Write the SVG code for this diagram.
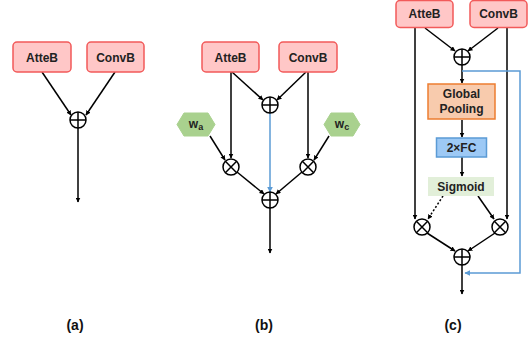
<svg xmlns="http://www.w3.org/2000/svg" width="532" height="343" viewBox="0 0 532 343">
  <defs>
    <marker id="ah" viewBox="0 0 10 10" refX="9" refY="5" markerWidth="5" markerHeight="5" orient="auto-start-reverse" markerUnits="userSpaceOnUse">
      <path d="M0,0 L10,5 L0,10 z" fill="#000"/>
    </marker>
    <marker id="ahb" viewBox="0 0 10 10" refX="9" refY="5" markerWidth="6" markerHeight="6" orient="auto" markerUnits="userSpaceOnUse">
      <path d="M0,0 L10,5 L0,10 z" fill="#5b9bd5"/>
    </marker>
    <g id="plus">
      <circle r="8" fill="#fff" stroke="#000" stroke-width="1.5"/>
      <path d="M-8,0 H8 M0,-8 V8" stroke="#000" stroke-width="1.5"/>
    </g>
    <g id="times">
      <circle r="8" fill="#fff" stroke="#000" stroke-width="1.5"/>
      <path d="M-5.66,-5.66 L5.66,5.66 M-5.66,5.66 L5.66,-5.66" stroke="#000" stroke-width="1.5"/>
    </g>
  </defs>
  <style>
    .blk { fill: #ffc7c7; stroke: #f25a5a; stroke-width: 1.5; }
    .lbl { font-family: "Liberation Sans", Arial, sans-serif; font-weight: bold; font-size: 12px; fill: #222; text-anchor: middle; }
    .cap { font-family: "Liberation Sans", Arial, sans-serif; font-weight: bold; font-size: 14px; fill: #111; text-anchor: middle; }
    .ln { stroke: #000; stroke-width: 1.5; fill: none; }
    .arr { marker-end: url(#ah); }
    .blue { stroke: #5b9bd5; stroke-width: 1.5; fill: none; }
    .hex { fill: #a9d18e; stroke: #a9d18e; }
  </style>
  <rect width="532" height="343" fill="#fff"/>

  <!-- connectors -->
  <g id="connectors">
    <!-- (a) -->
    <path class="ln arr" d="M42,72 L71,115"/>
    <path class="ln arr" d="M115,72 L86,115"/>
    <path class="ln arr" d="M78,128 V202"/>
    <!-- (b) -->
    <path class="ln arr" d="M231,72 V158"/>
    <path class="ln arr" d="M232,72 L263,100"/>
    <path class="ln arr" d="M308,72 V158"/>
    <path class="ln arr" d="M306,72 L277,100"/>
    <path class="blue" d="M270,113 V192" marker-end="url(#ahb)"/>
    <path class="ln arr" d="M210,136 L225,160"/>
    <path class="ln arr" d="M329,136 L314,160"/>
    <path class="ln arr" d="M237,172 L264,194"/>
    <path class="ln arr" d="M302,172 L276,194"/>
    <path class="ln arr" d="M270,208 V253"/>
    <!-- (c) -->
    <path class="ln arr" d="M415,27 V219"/>
    <path class="ln arr" d="M507,27 V219"/>
    <path class="ln arr" d="M425,28 L455,51"/>
    <path class="ln arr" d="M498,28 L468,51"/>
    <path class="ln arr" d="M462,65 V83"/>
    <path class="ln arr" d="M462,120 V137"/>
    <path class="ln arr" d="M462,157 V176"/>
    <path class="ln arr" d="M443,196 L428,219" stroke-dasharray="2,2"/>
    <path class="ln arr" d="M478,196 L494,219"/>
    <path class="ln arr" d="M427,233 L455,251"/>
    <path class="ln arr" d="M495,233 L468,251"/>
    <path class="ln arr" d="M462,265 V294"/>
    <path class="blue" d="M462,71 H520 V273 H465" marker-end="url(#ahb)"/>
  </g>

  <!-- (a) nodes -->
  <g id="a-atteb"><rect class="blk" x="13" y="42" width="58" height="30" rx="4"/><text class="lbl" x="42" y="61.5">AtteB</text></g>
  <g id="a-convb"><rect class="blk" x="87" y="42" width="57" height="30" rx="4"/><text class="lbl" x="115.5" y="61.5">ConvB</text></g>
  <g id="a-sum"><use href="#plus" x="78" y="120"/></g>

  <!-- (b) nodes -->
  <g id="b-atteb"><rect class="blk" x="202" y="42" width="57" height="30" rx="4"/><text class="lbl" x="230.5" y="61.5">AtteB</text></g>
  <g id="b-convb"><rect class="blk" x="279" y="42" width="58" height="30" rx="4"/><text class="lbl" x="308" y="61.5">ConvB</text></g>
  <g id="b-sum-top"><use href="#plus" x="270" y="105"/></g>
  <g id="b-wa"><polygon class="hex" points="177,124.5 184,113 208,113 215,124.5 208,136 184,136"/><text class="lbl" x="196" y="128">w<tspan font-size="9" dy="2">a</tspan></text></g>
  <g id="b-wc"><polygon class="hex" points="324,124.5 331,113 353,113 360,124.5 353,136 331,136"/><text class="lbl" x="342" y="128">w<tspan font-size="9" dy="2">c</tspan></text></g>
  <g id="b-mul-left"><use href="#times" x="231" y="167"/></g>
  <g id="b-mul-right"><use href="#times" x="308" y="167"/></g>
  <g id="b-sum-bottom"><use href="#plus" x="270" y="200"/></g>

  <!-- (c) nodes -->
  <g id="c-atteb"><rect class="blk" x="396" y="0.5" width="57" height="27" rx="4"/><text class="lbl" x="424.5" y="18">AtteB</text></g>
  <g id="c-convb"><rect class="blk" x="470" y="0.5" width="57" height="27" rx="4"/><text class="lbl" x="498.5" y="18">ConvB</text></g>
  <g id="c-sum-top"><use href="#plus" x="462" y="57"/></g>
  <g id="c-pool"><rect x="428" y="84" width="67" height="35" fill="#f8cbad" stroke="#ed7d31" stroke-width="1.5"/><text class="lbl" x="461.5" y="98">Global</text><text class="lbl" x="461.5" y="113">Pooling</text></g>
  <g id="c-fc"><rect x="436.5" y="138" width="50" height="19" fill="#9dc9f5" stroke="#5b9bd5" stroke-width="1.5"/><text class="lbl" x="461.5" y="152">2×FC</text></g>
  <g id="c-sigmoid"><rect x="428" y="177" width="66" height="19" fill="#e2efd9"/><text class="lbl" x="461" y="191">Sigmoid</text></g>
  <g id="c-mul-left"><use href="#times" x="422" y="227"/></g>
  <g id="c-mul-right"><use href="#times" x="500" y="227"/></g>
  <g id="c-sum-bottom"><use href="#plus" x="462" y="257"/></g>

  <!-- captions -->
  <text class="cap" x="75" y="330">(a)</text>
  <text class="cap" x="264" y="330">(b)</text>
  <text class="cap" x="453" y="330">(c)</text>
</svg>
